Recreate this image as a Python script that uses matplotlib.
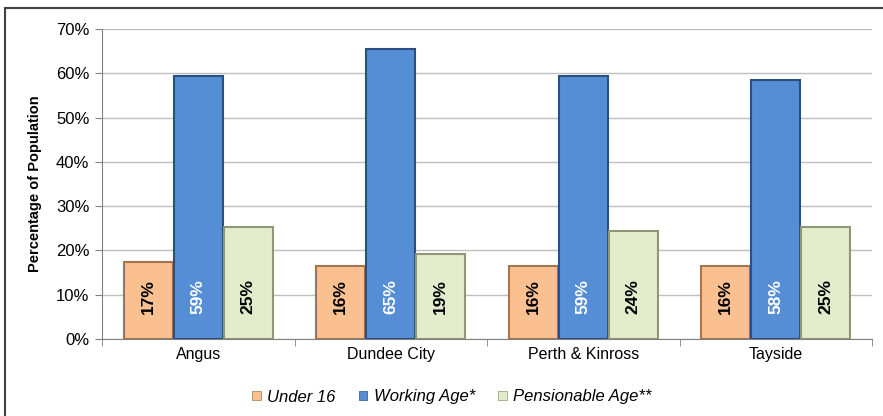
import matplotlib
matplotlib.use("Agg")
import matplotlib.pyplot as plt
import numpy as np
from matplotlib.patches import Rectangle
from matplotlib.ticker import FuncFormatter, MultipleLocator

plt.rcParams['font.family'] = ['Liberation Sans', 'DejaVu Sans']

categories = ["Angus", "Dundee City", "Perth & Kinross", "Tayside"]
series_names = ["Under 16", "Working Age*", "Pensionable Age**"]
under16 = [17.3, 16.4, 16.4, 16.4]
working = [59.4, 65.4, 59.4, 58.4]
pension = [25.3, 19.3, 24.4, 25.4]

colors = ["#FAC090", "#558ED5", "#E2ECCB"]
edges = ["#A07550", "#2A4F80", "#8E9878"]
label_colors = ["black", "white", "black"]

fig = plt.figure(figsize=(8.83, 4.16), dpi=100)
ax = fig.add_axes([102/883, 1-339/416, (872-102)/883, (339-29)/416])

x = np.arange(len(categories))
w = 0.26
for i, (vals, c, ec, lc, name) in enumerate(zip([under16, working, pension], colors, edges, label_colors, series_names)):
    pos = x + (i-1)*w
    bars = ax.bar(pos, vals, width=w*0.98, color=c, edgecolor=ec, linewidth=1.5, label=name, zorder=3)
    for b, v in zip(bars, vals):
        ax.text(b.get_x()+b.get_width()/2, 9.5, f"{v:.0f}%", rotation=90, ha='center', va='center',
                fontsize=12.5, fontweight='bold', color=lc, zorder=4)

ax.set_xlim(-0.5, len(categories)-0.5)
ax.set_ylim(0, 70)
ax.yaxis.set_major_locator(MultipleLocator(10))
ax.yaxis.set_major_formatter(FuncFormatter(lambda v, p: f"{v:.0f}%"))
ax.grid(axis='y', color='#BFBFBF', linewidth=1, zorder=0)
ax.set_axisbelow(True)
ax.set_xticks(x)
ax.set_xticklabels(categories, fontsize=11.5)
ax.set_xticks(np.arange(-0.5, len(categories)), minor=True)
ax.tick_params(axis='x', which='major', length=0, pad=6)
ax.tick_params(axis='x', which='minor', length=5, color='#808080', direction='out')
ax.tick_params(axis='y', labelsize=12, length=5, color='#808080', pad=4)
for s in ['top', 'right']:
    ax.spines[s].set_visible(False)
for s in ['left', 'bottom']:
    ax.spines[s].set_color('#808080')
ax.set_ylabel("Percentage of Population", fontsize=10.5, fontweight='bold', labelpad=10)

leg = ax.legend(loc='center', bbox_to_anchor=(452/883, 1-397/416), bbox_transform=fig.transFigure,
                ncol=3, frameon=False, prop={'style': 'italic', 'size': 12},
                handlelength=0.5, handleheight=0.5, handletextpad=0.4, columnspacing=1.4)
for h in leg.legend_handles:
    h.set_linewidth(0.5)

fig.patches.append(Rectangle((5/883, -0.5), 2, 1 - 8/416 + 0.5, transform=fig.transFigure,
                             fill=False, edgecolor='#404040', linewidth=1.5))

fig.savefig("out.png", dpi=100)
